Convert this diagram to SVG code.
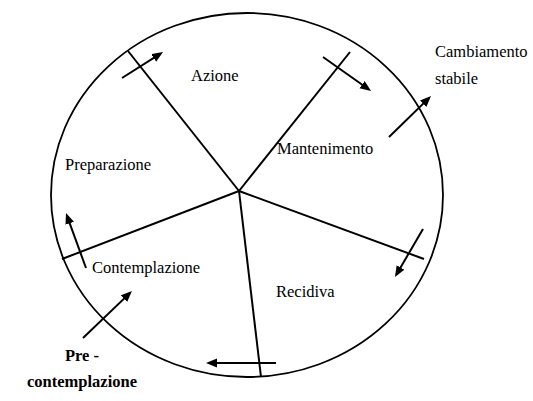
<svg xmlns="http://www.w3.org/2000/svg" width="533" height="401" viewBox="0 0 533 401">
  <style>
    .rim { fill: none; stroke: #000; stroke-width: 1.8; }
    .spoke { stroke: #000; stroke-width: 2; fill: none; }
    .arrow { stroke: #000; stroke-width: 2; fill: none; marker-end: url(#head); }
    .label { font-family: "Liberation Serif", "Times New Roman", serif; font-size: 16.5px; fill: #000; }
    .bold { font-weight: bold; }
  </style>
  <defs>
    <marker id="head" markerUnits="userSpaceOnUse" markerWidth="12" markerHeight="10" refX="8" refY="4.5" orient="auto">
      <path d="M0,0 L11,4.5 L0,9 z" fill="#000"/>
    </marker>
  </defs>
  <rect width="533" height="401" fill="#fff"/>

  <!-- outer cycle boundary -->
  <ellipse class="rim" cx="247" cy="195" rx="196" ry="182"/>

  <!-- stage dividers radiating from the hub -->
  <g id="connectors">
    <line class="spoke" x1="239" y1="191" x2="128" y2="51"/>
    <line class="spoke" x1="239" y1="191" x2="350" y2="52"/>
    <line class="spoke" x1="239" y1="191" x2="424" y2="259"/>
    <line class="spoke" x1="239" y1="191" x2="261" y2="377"/>
    <line class="spoke" x1="239" y1="191" x2="62" y2="259"/>

    <!-- transition arrows -->
    <line class="arrow" x1="122" y1="78" x2="160.5" y2="53.6"/>
    <line class="arrow" x1="323" y1="57" x2="368.6" y2="89.3"/>
    <line class="arrow" x1="389" y1="137" x2="428.9" y2="98.1"/>
    <line class="arrow" x1="423" y1="229" x2="396.5" y2="274.4"/>
    <line class="arrow" x1="276" y1="363" x2="209" y2="363"/>
    <line class="arrow" x1="83" y1="338" x2="129.8" y2="293.1"/>
    <line class="arrow" x1="86" y1="268" x2="67" y2="215.8"/>
  </g>

  <g id="azione"><text class="label" x="191" y="81">Azione</text></g>
  <g id="mantenimento"><text class="label" x="277" y="154">Mantenimento</text></g>
  <g id="cambiamento-stabile">
    <text class="label" x="435" y="57">Cambiamento</text>
    <text class="label" x="435" y="84">stabile</text>
  </g>
  <g id="preparazione"><text class="label" x="65" y="170">Preparazione</text></g>
  <g id="contemplazione"><text class="label" x="92" y="273">Contemplazione</text></g>
  <g id="recidiva"><text class="label" x="276" y="297">Recidiva</text></g>
  <g id="pre-contemplazione">
    <text class="label bold" x="65" y="361">Pre -</text>
    <text class="label bold" x="27" y="387">contemplazione</text>
  </g>
</svg>
